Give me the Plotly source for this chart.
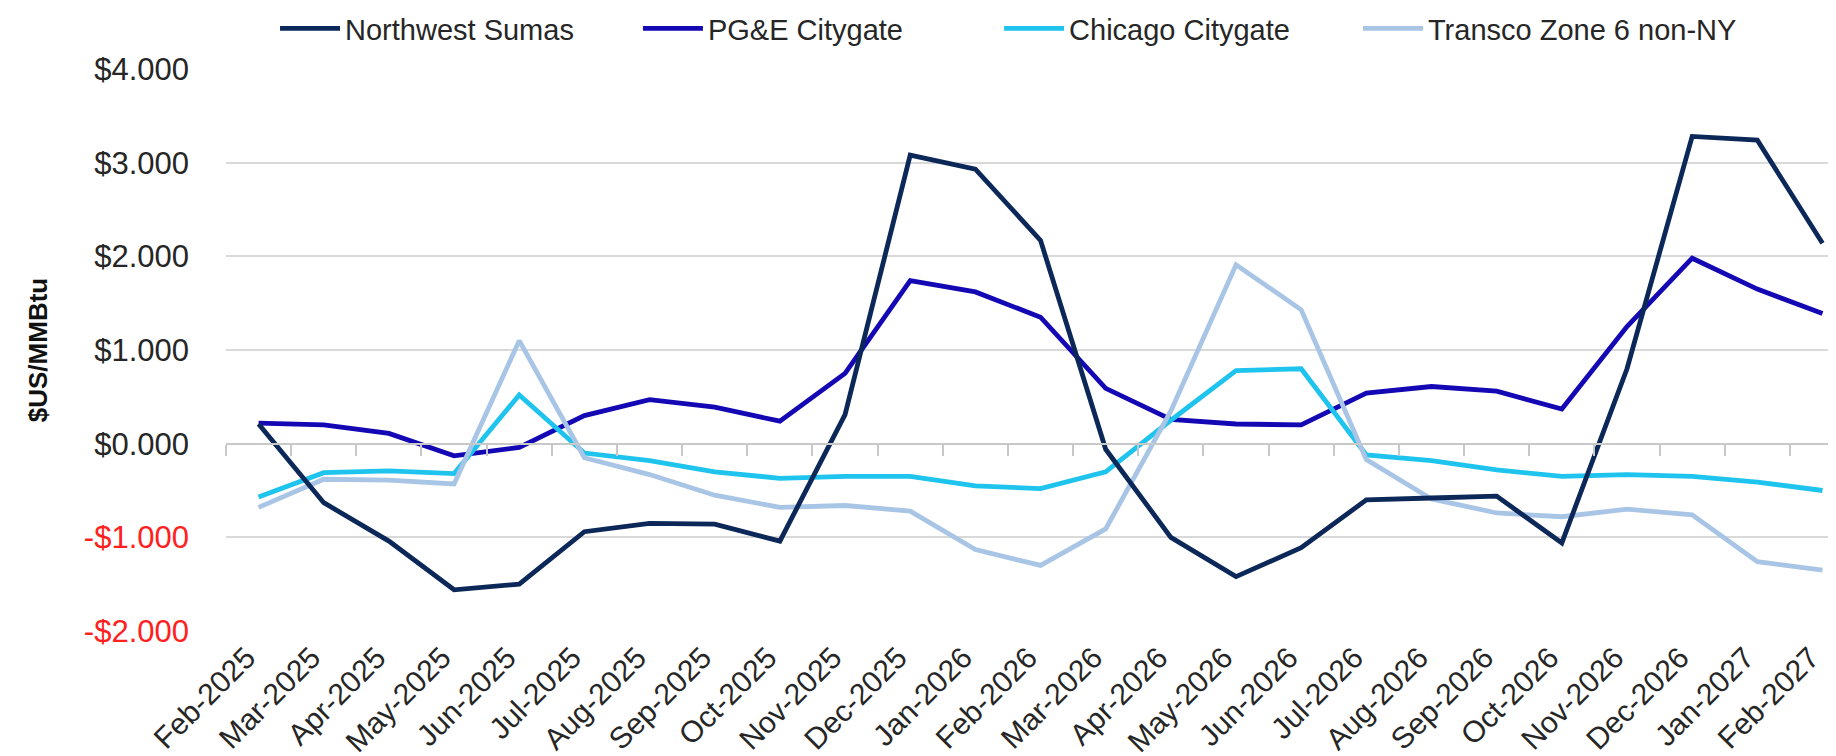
import plotly.graph_objects as go

months = ["Feb-2025", "Mar-2025", "Apr-2025", "May-2025", "Jun-2025", "Jul-2025",
          "Aug-2025", "Sep-2025", "Oct-2025", "Nov-2025", "Dec-2025", "Jan-2026",
          "Feb-2026", "Mar-2026", "Apr-2026", "May-2026", "Jun-2026", "Jul-2026",
          "Aug-2026", "Sep-2026", "Oct-2026", "Nov-2026", "Dec-2026", "Jan-2027",
          "Feb-2027"]

northwest_sumas = [0.21, -0.63, -1.04, -1.56, -1.50, -0.94, -0.85, -0.86, -1.04, 0.31,
                   3.08, 2.93, 2.17, -0.06, -1.00, -1.42, -1.11, -0.60, -0.58, -0.56,
                   -1.06, 0.80, 3.28, 3.24, 2.14]
pge_citygate = [0.22, 0.20, 0.11, -0.13, -0.04, 0.30, 0.47, 0.39, 0.24, 0.75,
                1.74, 1.62, 1.35, 0.59, 0.26, 0.21, 0.20, 0.54, 0.61, 0.56,
                0.37, 1.25, 1.98, 1.65, 1.39]
chicago_citygate = [-0.57, -0.31, -0.29, -0.32, 0.52, -0.10, -0.18, -0.30, -0.37, -0.35,
                    -0.35, -0.45, -0.48, -0.30, 0.25, 0.78, 0.80, -0.12, -0.18, -0.28,
                    -0.35, -0.33, -0.35, -0.41, -0.50]
transco_z6_nonny = [-0.68, -0.38, -0.39, -0.43, 1.10, -0.15, -0.33, -0.55, -0.68, -0.66,
                    -0.72, -1.13, -1.30, -0.91, 0.35, 1.91, 1.43, -0.17, -0.59, -0.74,
                    -0.78, -0.70, -0.76, -1.26, -1.35]

series_names = ["Northwest Sumas", "PG&E Citygate", "Chicago Citygate", "Transco Zone 6 non-NY"]
series_colors = ["#0B2858", "#1408B4", "#1EC4EE", "#A8C5E6"]

y_tick_vals = [-2, -1, 0, 1, 2, 3, 4]
y_tick_text = ["-$2.000", "-$1.000", "$0.000", "$1.000", "$2.000", "$3.000", "$4.000"]

FONT = "Liberation Sans, Arial, sans-serif"
fs = 31

# one legend box per series so the entries get Excel-like equal spacing
legend_ids = ["legend", "legend2", "legend3", "legend4"]
legend_x = [0.0303, 0.2546, 0.4778, 0.6996]

fig = go.Figure()
all_series = [northwest_sumas, pge_citygate, chicago_citygate, transco_z6_nonny]
for i, (name, vals, col) in enumerate(zip(series_names, all_series, series_colors)):
    fig.add_trace(go.Scatter(
        x=months, y=vals, name=name, mode="lines",
        line=dict(color=col, width=4.8),
        xaxis="x2" if i == 0 else "x",
        legend=legend_ids[i],
    ))

ticktext_colored = [
    f'<span style="color:#FF2020">{t}</span>' if v < 0 else t
    for v, t in zip(y_tick_vals, y_tick_text)
]

legend_layout = {}
for lid, lx in zip(legend_ids, legend_x):
    legend_layout[lid] = dict(
        orientation="h", x=lx, xanchor="left", y=1.072, yanchor="middle",
        font=dict(size=29, color="#262626"), itemwidth=60,
        bgcolor="rgba(0,0,0,0)",
    )

xr = [-0.5, 24.33]
fig.update_layout(
    width=1836, height=756,
    paper_bgcolor="white", plot_bgcolor="white",
    margin=dict(l=218, r=0, t=61, b=133, autoexpand=False),
    font=dict(family=FONT, size=fs, color="#262626"),
    showlegend=True,
    xaxis=dict(
        type="category", categoryorder="array", categoryarray=months,
        range=xr, showgrid=False, showline=False, zeroline=False,
        ticks="", tickangle=-45, ticklabelstandoff=2, ticklabelshift=-12,
        tickfont=dict(size=30, color="#262626"), automargin=False,
    ),
    xaxis2=dict(
        type="category", categoryorder="array", categoryarray=months,
        range=xr, overlaying="x", anchor="free", position=1/3,
        showgrid=False, showline=True, linecolor="#C8C8C8", linewidth=2,
        ticks="outside", tickson="boundaries", ticklen=11, tickwidth=2,
        tickcolor="#C8C8C8", showticklabels=False, automargin=False,
    ),
    yaxis=dict(
        range=[-2, 4], tickvals=y_tick_vals, ticktext=ticktext_colored,
        showgrid=True, gridcolor="#D9D9D9", gridwidth=2, zeroline=False,
        showline=False, ticks="", ticklabelstandoff=36,
        tickfont=dict(size=fs, color="#262626"), automargin=False,
        title=dict(text="<b>$US/MMBtu</b>", font=dict(size=26, color="#111111"), standoff=28),
    ),
    **legend_layout,
)

fig.write_html("out.html")
